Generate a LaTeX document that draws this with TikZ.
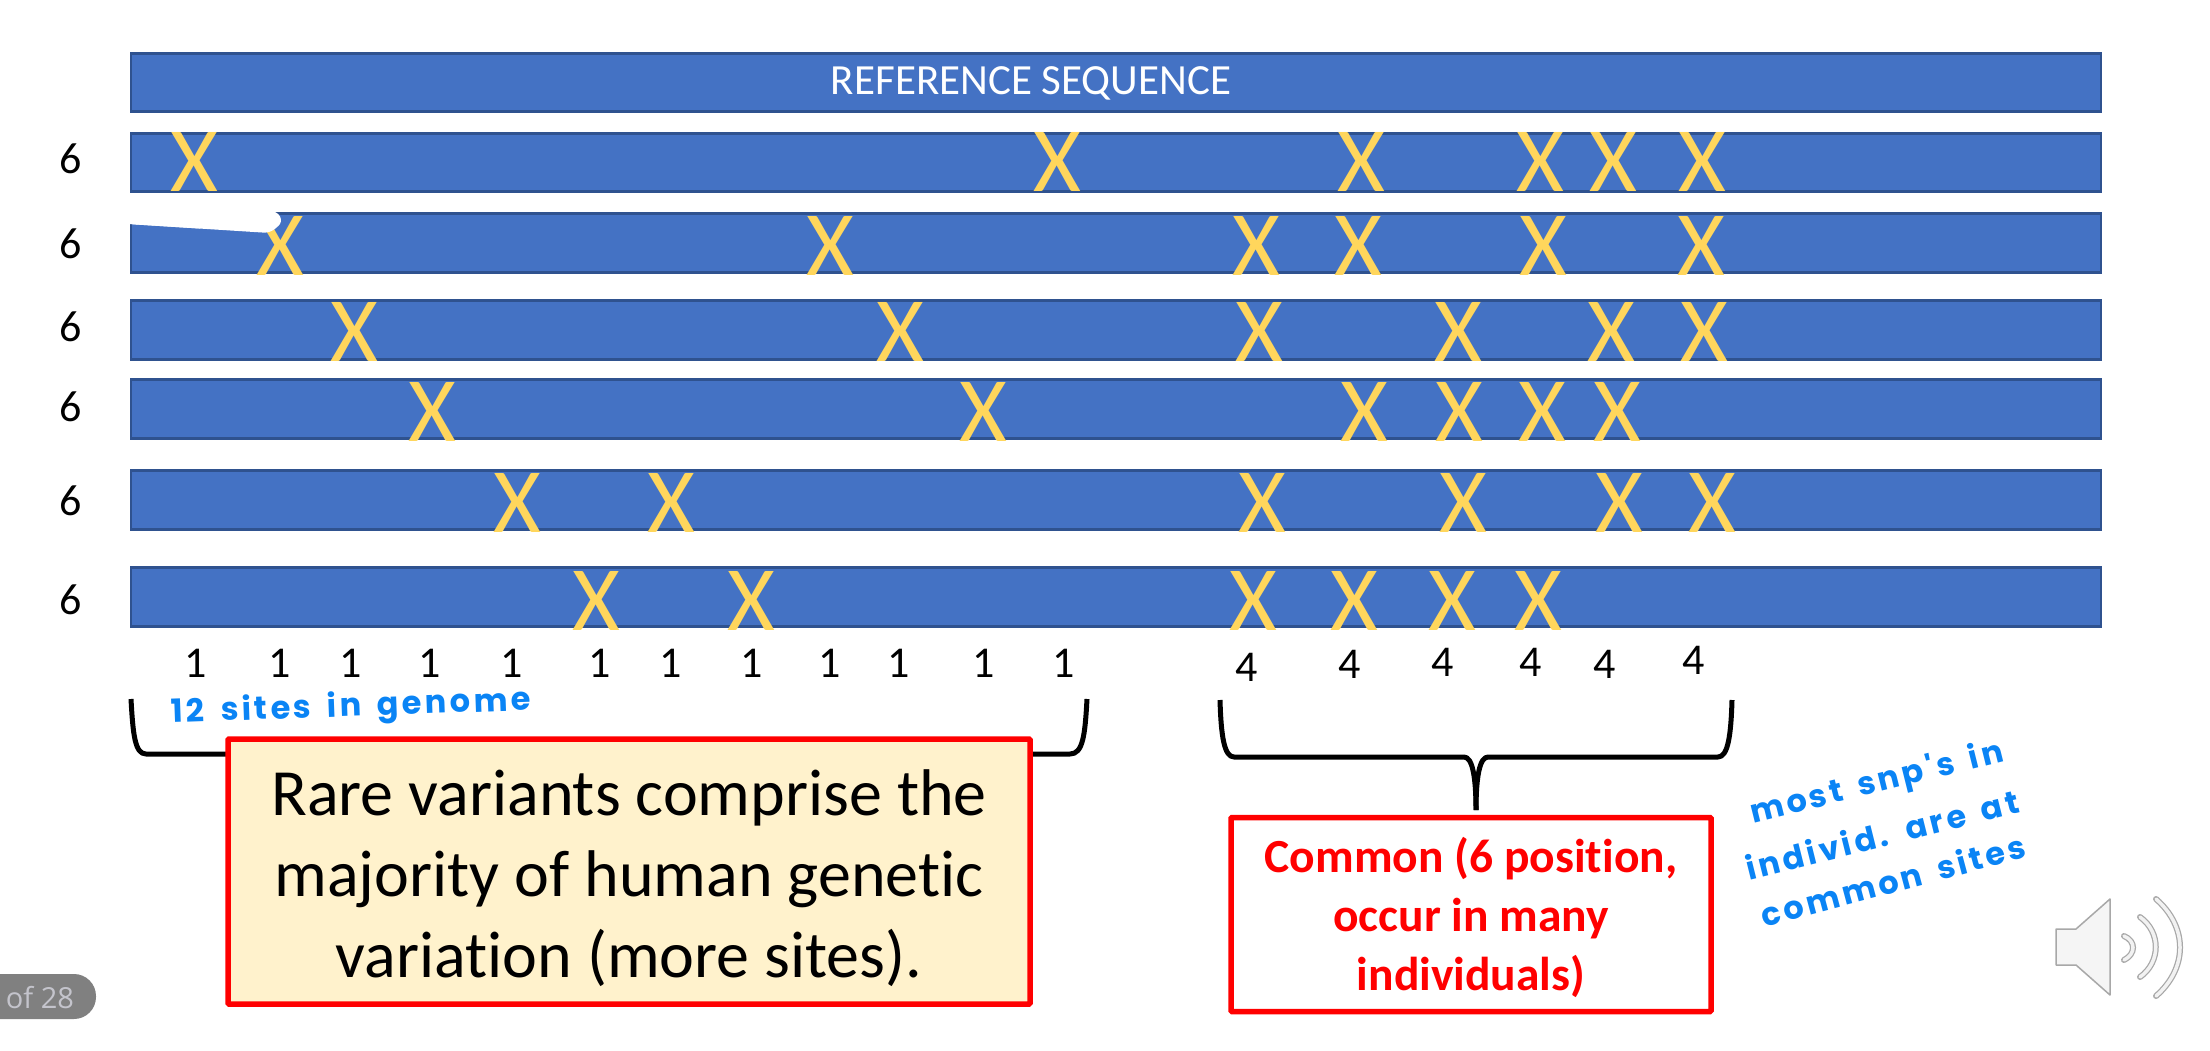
\documentclass[tikz,border=0pt]{standalone}
\usepackage{fontspec}
\setmainfont{Carlito}[RawFeature={-liga}]
\newfontfamily\handfont{Poppins}[LetterSpace=10,WordSpace=1.6]
\newfontfamily\uifont{Open Sans}
\definecolor{barblue}{HTML}{4472C4}
\definecolor{barline}{HTML}{2F528F}
\definecolor{xyellow}{HTML}{FFD65C}
\definecolor{cream}{HTML}{FFF2CC}
\definecolor{inkblue}{HTML}{0A84F5}
\definecolor{pillgrey}{HTML}{808080}
\definecolor{pilltext}{HTML}{C4C4CC}
\definecolor{spk}{HTML}{A8A8A8}
\tikzset{
 bar/.style={draw=barline,line width=2.5pt,fill=barblue,minimum width=1970pt,inner sep=0pt,outer sep=0pt},
 mark X/.style={text=xyellow,inner sep=0pt,font=\fontsize{92}{92}\selectfont},
 count/.style={inner sep=0pt,font=\fontsize{44}{52}\selectfont},
 brace line/.style={draw=black,line width=5pt,line join=round},
 redbox/.style={draw=red,line width=5.5pt,rounded corners=1pt,inner sep=0pt,outer sep=0pt},
 boxtext/.style={inner sep=0pt,align=center},
 hand/.style={text=inkblue,inner sep=0pt,font=\handfont\fontsize{32}{40}\bfseries\selectfont},
 wave/.style={draw=spk,line width=6pt,line cap=round},
 wave in/.style={draw=white!95!black,line width=3.5pt,line cap=round}
}
\begin{document}
\begin{tikzpicture}[x=1pt,y=-1pt]
\useasboundingbox (0,0) rectangle (2210,1050);
\fill[white] (0,0) rectangle (2210,1050);
% bars
\node[bar,minimum height=58pt] (ref) at (1116,82.5) {};
\node[text=white,inner sep=0pt,font=\fontsize{43}{50}\selectfont] (reflabel) at (1031,83) {REFERENCE SEQUENCE};
\foreach \r/\yt/\yb in {1/133/192,2/213/273,3/300/360,4/379/439,5/470/530,6/567/627}{
  \pgfmathsetmacro\ym{(\yt+\yb)/2}
  \pgfmathsetmacro\hh{\yb-\yt-1}
  \node[bar,minimum height=\hh pt] (row\r) at (1116,\ym) {};
}
% X marks
\foreach \r/\y/\list in {
 1/162/{194,1057,1361,1540,1613,1702},
 2/246/{280,830,1256,1358,1543,1701},
 3/332/{354,900,1259,1458,1611,1704},
 4/412/{432,983,1364,1459,1542,1617},
 5/503/{517,671,1262,1463,1619,1712},
 6/601/{596,751,1253,1354,1452,1538}}{
  \foreach \x [count=\i] in \list { \node[mark X] (x\r-\i) at (\x,\y) {X}; }
}
% notch in second bar, over the X
\fill[white,rounded corners=6pt] (128,211) -- (277,211) -- (283,222) -- (270,233) -- (128,224) -- cycle;
\fill[white] (128,210) -- (128,224) -- (200,228.5) -- (200,210) -- cycle;
% row counts
\foreach \y [count=\i] in {159,244,327,407,501,600}{
  \node[count] (six\i) at (71,\y) {6};
}
% site counts
\foreach \x [count=\i] in {196,280,351,430,512,600,671,752,830,899,984,1064}{
  \node[count] (one\i) at (\x,663) {1};
}
\foreach \x/\y [count=\i] in {1247/667,1350/664,1443/662,1531/662,1605/664,1694/660}{
  \node[count] (four\i) at (\x,\y) {4};
}
% left brace
\path[brace line] (131,699) .. controls (133,735) and (135,754) .. (146,754) -- (1070,754) .. controls (1083,754) and (1085,735) .. (1087,699);
% boxes
\node[redbox,fill=cream,minimum width=802pt,minimum height=265pt] (rare) at (629,871.5) {};
\node[boxtext,font=\fontsize{66}{81}\selectfont] (raretext) at (629,878) {Rare variants comprise the\\majority of human genetic\\variation (more sites).};
\node[redbox,minimum width=480pt,minimum height=194pt] (common) at (1471,914.5) {};
\node[boxtext,text=red,font=\fontsize{47.5}{59}\bfseries\selectfont] (commontext) at (1471,917.5) {Common (6 position,\\occur in many\\individuals)};
% right brace
\path[brace line] (1220,700) .. controls (1221,735) and (1224,757) .. (1234,757) -- (1464,757) .. controls (1472,757) and (1476,775) .. (1476,810);
\path[brace line] (1732,700) .. controls (1731,735) and (1728,757) .. (1718,757) -- (1488,757) .. controls (1480,757) and (1476,775) .. (1476,810);
% handwriting
\node[hand,rotate=2] (note1) at (351,708) {12 sites in genome};
\node[hand,rotate=14] (note2) at (1877,784) {most snp's in};
\node[hand,rotate=14] (note3) at (1882,834) {individ. are at};
\node[hand,rotate=15] (note4) at (1893,880) {common sites};
% page pill
\fill[pillgrey,rounded corners=22pt] (-40,974) rectangle (96,1019);
\node[text=pilltext,inner sep=0pt,font=\uifont\fontsize{29}{34}\selectfont] (pill) at (40,998) {of 28};
% speaker
\draw[spk,line width=1.5pt,fill=white!96!black,line join=round] (2056,929) -- (2076,929) -- (2110,899) -- (2110,995) -- (2076,965) -- (2056,965) -- cycle;
\path[wave] (2124,936) .. controls (2136,941) and (2136,954) .. (2124,960);
\path[wave] (2140,917) .. controls (2161,932) and (2161,962) .. (2140,977);
\path[wave] (2156,899) .. controls (2188,927) and (2188,968) .. (2156,996);
\path[wave in] (2124,936) .. controls (2136,941) and (2136,954) .. (2124,960);
\path[wave in] (2140,917) .. controls (2161,932) and (2161,962) .. (2140,977);
\path[wave in] (2156,899) .. controls (2188,927) and (2188,968) .. (2156,996);
\end{tikzpicture}
\end{document}
